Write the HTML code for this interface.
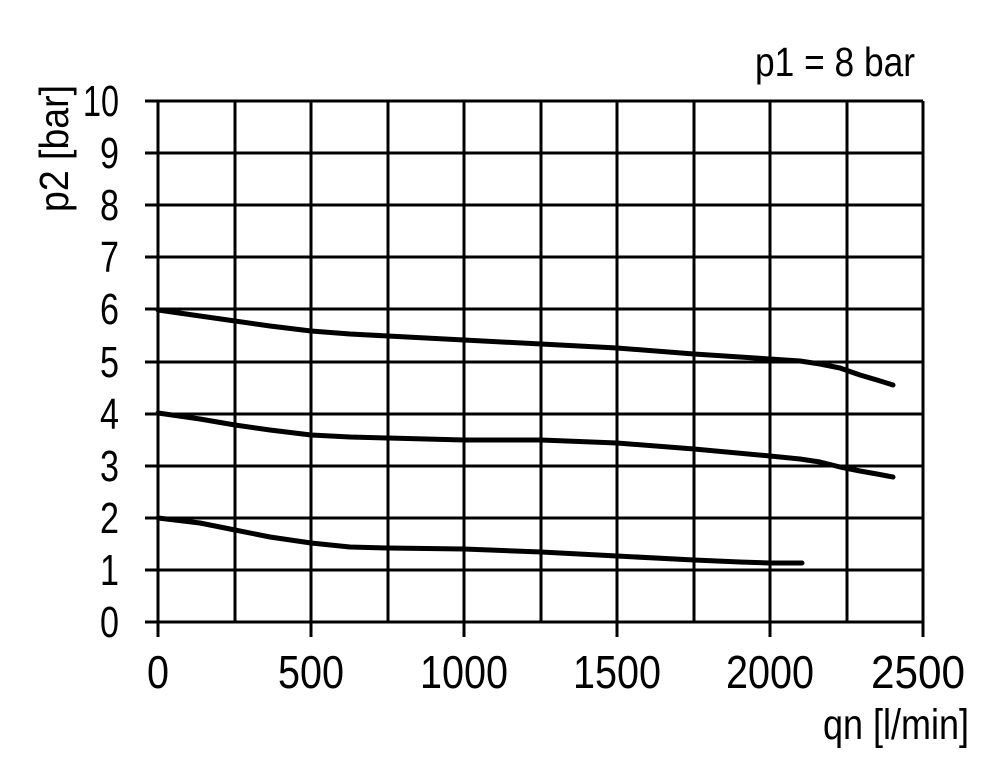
<!DOCTYPE html>
<html><head><style>html,body{margin:0;padding:0;background:#fff}</style></head><body>
<svg width="1000" height="764" viewBox="0 0 1000 764" xmlns="http://www.w3.org/2000/svg" font-family="Liberation Sans, Arial, sans-serif" fill="#000">
<g stroke="#000" stroke-width="3">
<line x1="145" y1="101" x2="923" y2="101"/>
<line x1="145" y1="153" x2="923" y2="153"/>
<line x1="145" y1="205" x2="923" y2="205"/>
<line x1="145" y1="257" x2="923" y2="257"/>
<line x1="145" y1="309" x2="923" y2="309"/>
<line x1="145" y1="362" x2="923" y2="362"/>
<line x1="145" y1="414" x2="923" y2="414"/>
<line x1="145" y1="466" x2="923" y2="466"/>
<line x1="145" y1="518" x2="923" y2="518"/>
<line x1="145" y1="570" x2="923" y2="570"/>
<line x1="145" y1="622" x2="923" y2="622"/>
<line x1="158" y1="101" x2="158" y2="637"/>
<line x1="235" y1="101" x2="235" y2="622"/>
<line x1="311" y1="101" x2="311" y2="637"/>
<line x1="388" y1="101" x2="388" y2="622"/>
<line x1="464" y1="101" x2="464" y2="637"/>
<line x1="541" y1="101" x2="541" y2="622"/>
<line x1="617" y1="101" x2="617" y2="637"/>
<line x1="694" y1="101" x2="694" y2="622"/>
<line x1="770" y1="101" x2="770" y2="637"/>
<line x1="847" y1="101" x2="847" y2="622"/>
<line x1="923" y1="101" x2="923" y2="637"/>
</g>
<g fill="none" stroke="#000" stroke-width="5" stroke-linecap="round" stroke-linejoin="round">
<polyline points="158,310 200,316 235,321 270,326 311,331 350,334 388,336 464,340 541,344 617,348 694,354 770,359 800,361 820,364 840,368 860,375 877,380 893,385"/>
<polyline points="158,413 200,419 235,425 270,430 311,435 350,437 388,438 464,440 541,440 617,443 694,449 770,456 800,459 820,462 840,467 860,471 877,474 893,477"/>
<polyline points="158,518 200,523 235,530 270,537 311,543 350,547 388,548 464,549 541,552 617,556 694,560 740,562 770,563 802,563"/>
</g>
<g font-size="44" text-anchor="end">
<text x="119" y="116" textLength="36" lengthAdjust="spacingAndGlyphs">10</text>
<text x="119" y="168" textLength="19" lengthAdjust="spacingAndGlyphs">9</text>
<text x="119" y="220" textLength="19" lengthAdjust="spacingAndGlyphs">8</text>
<text x="119" y="272" textLength="19" lengthAdjust="spacingAndGlyphs">7</text>
<text x="119" y="324" textLength="19" lengthAdjust="spacingAndGlyphs">6</text>
<text x="119" y="377" textLength="19" lengthAdjust="spacingAndGlyphs">5</text>
<text x="119" y="429" textLength="19" lengthAdjust="spacingAndGlyphs">4</text>
<text x="119" y="481" textLength="19" lengthAdjust="spacingAndGlyphs">3</text>
<text x="119" y="533" textLength="19" lengthAdjust="spacingAndGlyphs">2</text>
<text x="119" y="585" textLength="19" lengthAdjust="spacingAndGlyphs">1</text>
<text x="119" y="637" textLength="19" lengthAdjust="spacingAndGlyphs">0</text>
</g>
<g font-size="46" text-anchor="middle">
<text x="158" y="688" textLength="22" lengthAdjust="spacingAndGlyphs">0</text>
<text x="311" y="688" textLength="66" lengthAdjust="spacingAndGlyphs">500</text>
<text x="464" y="688" textLength="88" lengthAdjust="spacingAndGlyphs">1000</text>
<text x="617" y="688" textLength="88" lengthAdjust="spacingAndGlyphs">1500</text>
<text x="770" y="688" textLength="88" lengthAdjust="spacingAndGlyphs">2000</text>
<text x="918" y="688" textLength="94" lengthAdjust="spacingAndGlyphs">2500</text>
</g>
<text x="755" y="76" font-size="41" textLength="160" lengthAdjust="spacingAndGlyphs">p1 = 8 bar</text>
<text x="823" y="739" font-size="43" textLength="146" lengthAdjust="spacingAndGlyphs">qn [l/min]</text>
<text transform="translate(68,212) rotate(-90)" font-size="41" textLength="127" lengthAdjust="spacingAndGlyphs">p2 [bar]</text>
</svg>
</body></html>
